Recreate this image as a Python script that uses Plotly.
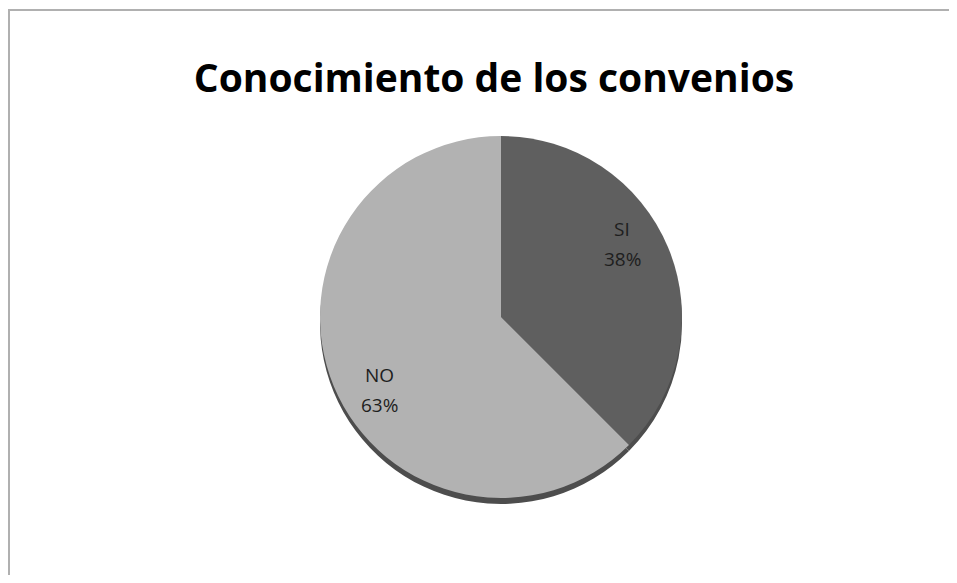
import math
import plotly.graph_objects as go

labels = ["SI", "NO"]
values = [37.5, 62.5]
colors = ["#5f5f5f", "#b2b2b2"]
title_text = "Conocimiento de los convenios"

# figure is sized so that it plus the page's default 8px body margin fills the window
W, H = 941, 567
cx, cy, r = 493, 309, 181
FONT = "Open Sans, Liberation Sans, sans-serif"

def dom(cx, cy, r):
    return dict(x=[(cx - r) / W, (cx + r) / W], y=[(H - cy - r) / H, (H - cy + r) / H])

fig = go.Figure()
# shadow underneath (3D look)
fig.add_trace(go.Pie(
    labels=labels, values=values, sort=False, direction="clockwise", rotation=0,
    marker=dict(colors=["#4d4d4d", "#4d4d4d"], line=dict(width=0)),
    textinfo="none", hoverinfo="skip", showlegend=False,
    domain=dom(cx, cy + 6, r),
))
fig.add_trace(go.Pie(
    labels=labels, values=values, sort=False, direction="clockwise", rotation=0,
    marker=dict(colors=colors, line=dict(width=0)),
    textinfo="none", showlegend=False,
    domain=dom(cx, cy, r),
))

# data labels placed from the slices' mid-angles
total = sum(values)
annotations = []
start = 0.0
for lab, v in zip(labels, values):
    mid = start + v / total * 360 / 2 - 8.5
    start += v / total * 360
    a = math.radians(mid)
    px = cx + 0.78 * r * math.sin(a)
    py = cy - 0.78 * r * math.cos(a)
    pct = f"{round(v / total * 100 + 1e-9):.0f}%"
    for txt, dy in ((lab, -15), (pct, 15)):
        annotations.append(dict(
            text=txt, x=px / W, y=1 - (py + dy) / H, xref="paper", yref="paper",
            showarrow=False, xanchor="center", yanchor="middle",
            font=dict(family=FONT, size=19, color="#1e1e1e"),
        ))

fig.update_layout(
    width=W, height=H,
    margin=dict(l=0, r=0, t=0, b=0),
    paper_bgcolor="white", plot_bgcolor="white",
    title=dict(text="<b>" + title_text + "</b>", x=486 / W, xanchor="center",
               y=1 - 70 / H, yanchor="middle",
               font=dict(family=FONT, size=39, color="black")),
    annotations=annotations,
    shapes=[
        dict(type="line", xref="paper", yref="paper",
             x0=1 / W, x1=1 / W, y0=0, y1=1 - 2 / H,
             line=dict(color="#b0b0b0", width=2)),
        dict(type="line", xref="paper", yref="paper",
             x0=0, x1=1, y0=1 - 2 / H, y1=1 - 2 / H,
             line=dict(color="#b0b0b0", width=2)),
    ],
)

fig.write_html("out.html")
